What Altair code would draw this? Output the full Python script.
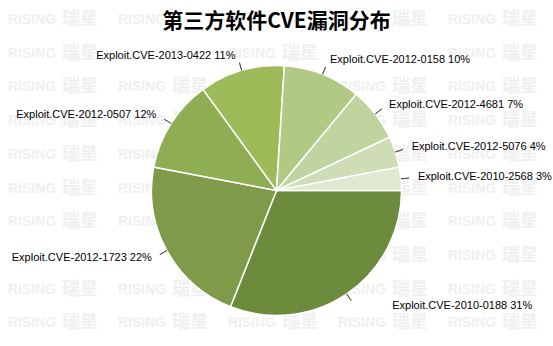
import math
import altair as alt
import pandas as pd

# ---- data ----
labels = ["Exploit.CVE-2010-0188", "Exploit.CVE-2012-1723", "Exploit.CVE-2012-0507",
          "Exploit.CVE-2013-0422", "Exploit.CVE-2012-0158", "Exploit.CVE-2012-4681",
          "Exploit.CVE-2012-5076", "Exploit.CVE-2010-2568"]
shares = [31, 22, 12, 11, 10, 7, 4, 3]
colors = ["#6d8b3c", "#7f9a48", "#8fad52", "#9dbb59", "#b0ca86", "#bfd49e", "#cfddb6", "#dfe8d0"]
title_text = "第三方软件CVE漏洞分布"
wm_rows = list(range(10))
wm_cols = list(range(5))
wm_words = ["RISING", "瑞星"]
# watermark cells hidden behind the title and label boxes in the reference (row, col)
hidden_a = [(0, 2), (0, 3), (1, 1), (1, 3), (7, 0), (7, 1)]
hidden_b = [(0, 1), (0, 2), (1, 1), (1, 3), (7, 0)]

df = pd.DataFrame({"name": labels, "share": shares, "order": list(range(len(labels)))})
wm_a_df = pd.DataFrame([{"r": r, "c": c} for r in wm_rows for c in wm_cols if (r, c) not in hidden_a])
wm_b_df = pd.DataFrame([{"r": r, "c": c} for r in wm_rows for c in wm_cols if (r, c) not in hidden_b])

theta_scale = alt.Scale(domain=[0, 100], range=[math.pi / 2, math.pi / 2 + 2 * math.pi])

base = (
    alt.Chart(df)
    .transform_window(cum="sum(share)", sort=[alt.SortField("order")])
    .transform_calculate(
        start="datum.cum - datum.share",
        mid="datum.cum - datum.share / 2",
        mid2="datum.cum - datum.share / 2 + 0.02",
        label="datum.name + ' ' + datum.share + '%'",
    )
)

pie = base.mark_arc(radius=125, stroke="white", strokeWidth=1.5).encode(
    theta=alt.Theta("start:Q", scale=theta_scale),
    theta2="cum:Q",
    color=alt.Color("name:N", scale=alt.Scale(domain=labels, range=colors), legend=None),
)

leaders = base.mark_arc(radius=133, radius2=125, filled=False, stroke="#444444",
                        strokeWidth=0.8).encode(
    theta=alt.Theta("mid:Q", scale=theta_scale),
    theta2="mid2:Q",
)

txt_style = dict(radius=140, baseline="middle", fontSize=11, font="Liberation Sans", color="#000000")

right_txt = base.transform_filter(
    "(datum.mid < 25 || datum.mid > 75) && datum.order != 0"
).mark_text(align="left", dx=2, **txt_style).encode(
    theta=alt.Theta("mid:Q", scale=theta_scale), text="label:N"
)

big_txt = base.transform_filter("datum.order == 0").mark_text(
    align="left", dx=37, **txt_style
).encode(theta=alt.Theta("mid:Q", scale=theta_scale), text="label:N")

left_txt = base.transform_filter("datum.mid >= 25 && datum.mid <= 75").mark_text(
    align="right", dx=-2, **txt_style
).encode(theta=alt.Theta("mid:Q", scale=theta_scale), text="label:N")

wm_a = alt.Chart(wm_a_df).mark_text(
    align="left", baseline="middle", fontSize=14, font="Liberation Sans",
    fontWeight="bold", color="#f0f0f0"
).encode(
    x=alt.X("c:Q", scale=alt.Scale(domain=[0, 5], range=[8, 558]), axis=None),
    y=alt.Y("r:Q", scale=alt.Scale(domain=[0, 10], range=[-15, 322]), axis=None),
    text=alt.value(wm_words[0]),
)
wm_b = alt.Chart(wm_b_df).mark_text(
    align="left", baseline="middle", fontSize=18, font="Noto Sans CJK SC",
    fontWeight="bold", color="#f0f0f0"
).encode(
    x=alt.X("c:Q", scale=alt.Scale(domain=[0, 5], range=[62, 612]), axis=None),
    y=alt.Y("r:Q", scale=alt.Scale(domain=[0, 10], range=[-15, 322]), axis=None),
    text=alt.value(wm_words[1]),
)

chart = (
    alt.layer(wm_a, wm_b, pie, leaders, right_txt, big_txt, left_txt)
    .resolve_scale(x="independent", y="independent")
    .properties(
        width=553,
        height=311,
        autosize=alt.AutoSizeParams(type="none"),
        padding={"top": 35, "left": 0, "right": 0, "bottom": 0},
        background="white",
        title=alt.TitleParams(
            title_text, fontSize=21, font="Noto Sans CJK SC", fontWeight="bold",
            anchor="middle", color="#000000", offset=-21, frame="group",
        ),
    )
    .configure_view(stroke=None)
)

chart.save("out.html", embed_options={"renderer": "svg", "actions": False})
